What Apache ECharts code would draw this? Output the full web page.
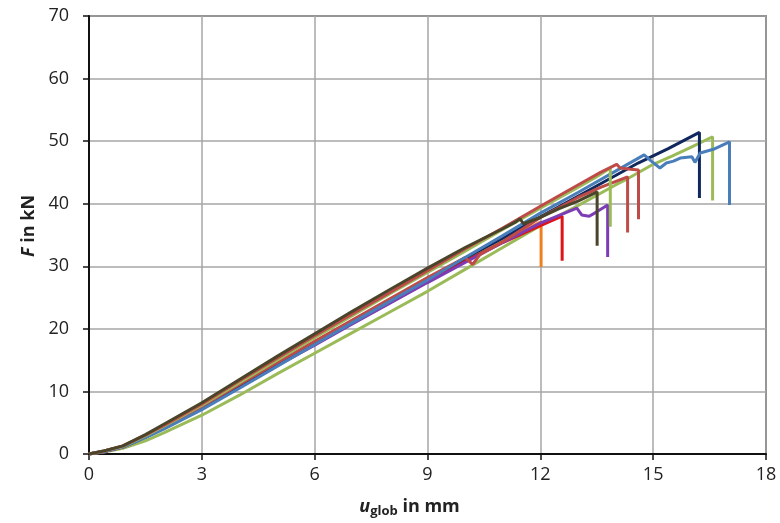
<!DOCTYPE html>
<html>
<head>
<meta charset="utf-8">
<script src="https://cdn.jsdelivr.net/npm/echarts@6/dist/echarts.min.js"></script>
<style>
  html, body { margin: 0; padding: 0; background: #fff; }
  #chart { width: 780px; height: 523px; }
</style>
</head>
<body>
<div id="chart"></div>
<script>
// Load–displacement curves, F in kN over u_glob in mm, one array per specimen
const xTicks = [0, 3, 6, 9, 12, 15, 18];
const yTicks = [0, 10, 20, 30, 40, 50, 60, 70];

const curveGreenB = [[0,0],[0.4,0.3],[0.9,0.9],[1.5,2.1],[2,3.4],[3,6.2],[4,9.4],[5,12.8],[6,16.1],[7,19.4],[8,22.7],[9,26.0],[10,29.5],[11,33.0],[12,36.5],[13,39.7],[14,43.0],[14.26,43.8],[15.0,46.3],[15.5,47.6],[16,49.0],[16.58,50.7],[16.58,40.5]];
const curveOrange = [[0,0],[0.4,0.4],[0.9,1.1],[1.5,2.7],[2,4.2],[3,7.4],[4,10.8],[5,14.2],[6,17.6],[7,20.9],[8,24.2],[9,27.5],[10,30.8],[11,34.0],[12.02,37.1],[12.02,29.9]];
const curveRed = [[0,0],[0.4,0.4],[0.9,1.1],[1.5,2.7],[2,4.3],[3,7.4],[4,10.8],[5,14.2],[6,17.6],[7,20.9],[8,24.3],[9,27.6],[10,30.8],[11,33.8],[12,36.5],[12.58,38.0],[12.58,30.9]];
const curvePurple = [[0,0],[0.4,0.4],[0.9,1.1],[1.5,2.7],[2,4.2],[3,7.3],[4,10.7],[5,14.1],[6,17.4],[7,20.8],[8,24.1],[9,27.4],[10,30.6],[11,33.8],[12,36.9],[12.97,39.3],[13.1,38.2],[13.3,38.0],[13.5,38.7],[13.79,39.8],[13.79,31.5]];
const curveNavy = [[0,0],[0.4,0.5],[0.9,1.2],[1.5,2.8],[2,4.3],[3,7.4],[4,10.9],[5,14.4],[6,17.9],[7,21.3],[8,24.7],[9,28.0],[10,31.3],[11,34.5],[12,37.9],[13,41.2],[14,44.5],[14.6,46.5],[15.4,48.8],[16.23,51.4],[16.23,40.9]];
const curveRustB = [[0,0],[0.4,0.4],[0.9,1.2],[1.5,2.8],[2,4.3],[3,7.6],[4,11.1],[5,14.6],[6,18.0],[7,21.4],[8,24.8],[9,28.2],[10,31.4],[10.2,30.3],[10.4,31.9],[11,33.9],[12,37.8],[13,41.0],[13.6,42.6],[14.32,44.3],[14.32,35.4]];
const curveBlue = [[0,0],[0.4,0.4],[0.9,1.1],[1.5,2.6],[2,4.0],[3,7.1],[4,10.5],[5,14.0],[6,17.5],[7,21.0],[8,24.4],[9,27.8],[10,31.4],[11,34.9],[12,38.5],[13,41.8],[14,45.2],[14.76,47.8],[14.95,46.8],[15.18,45.7],[15.35,46.5],[15.54,46.8],[15.72,47.3],[16.03,47.5],[16.11,46.6],[16.25,48.1],[16.6,48.7],[17.03,49.9],[17.03,39.8]];
const curveGreenA = [[0,0],[0.4,0.5],[0.9,1.2],[1.5,2.9],[2,4.5],[3,7.8],[4,11.4],[5,15.0],[6,18.6],[7,22.1],[8,25.6],[9,29.0],[10,32.4],[11,35.9],[12,39.3],[13,42.6],[13.5,44.3],[13.86,45.7],[13.86,36.3]];
const curveRustA = [[0,0],[0.4,0.5],[0.9,1.3],[1.5,3.0],[2,4.6],[3,8.0],[4,11.7],[5,15.3],[6,18.9],[7,22.4],[8,25.8],[9,29.3],[10,32.8],[11,36.1],[12,39.6],[13,43.0],[13.6,45.0],[14.03,46.3],[14.12,45.7],[14.4,45.5],[14.61,45.4],[14.61,37.5]];
const curveOlive = [[0,0],[0.4,0.5],[0.9,1.3],[1.5,3.1],[2,4.8],[3,8.2],[4,11.9],[5,15.6],[6,19.2],[7,22.8],[8,26.3],[9,29.7],[10,33.0],[11,36.0],[11.35,37.1],[11.46,37.6],[11.55,36.8],[12,37.8],[12.5,39.2],[13,40.4],[13.51,41.9],[13.51,33.3]];

const curves = [
  { data: curveGreenB, color: '#9BBB59' },
  { data: curveOrange, color: '#F0801E' },
  { data: curveRed,    color: '#DD1418' },
  { data: curvePurple, color: '#7D3CB5' },
  { data: curveNavy,   color: '#10285E' },
  { data: curveRustB,  color: '#BE4B48' },
  { data: curveBlue,   color: '#4A7EBB' },
  { data: curveGreenA, color: '#9BBB59' },
  { data: curveRustA,  color: '#BE4B48' },
  { data: curveOlive,  color: '#4A452A' }
];

const font = 'Open Sans';
const chart = echarts.init(document.getElementById('chart'), null, { renderer: 'canvas' });

chart.setOption({
  animation: false,
  backgroundColor: '#ffffff',
  grid: {
    left: 89, right: 14, top: 16, bottom: 69,
    show: true, borderColor: '#3a3a3a', borderWidth: 1.5, backgroundColor: 'transparent'
  },
  xAxis: {
    type: 'value',
    min: xTicks[0], max: xTicks[xTicks.length - 1], interval: xTicks[1] - xTicks[0],
    name: '{u|u}{sub|glob}{t| in mm}',
    nameLocation: 'middle', nameGap: 42,
    nameTextStyle: {
      padding: [0, 36, 0, 0],
      rich: {
        u:   { fontFamily: font, fontSize: 18, fontWeight: 'bold', fontStyle: 'italic', color: '#222' },
        sub: { fontFamily: font, fontSize: 13, fontWeight: 'bold', color: '#222', padding: [9, 0, 0, 0] },
        t:   { fontFamily: font, fontSize: 18, fontWeight: 'bold', color: '#222' }
      }
    },
    axisLine: { show: true, onZero: false, lineStyle: { color: '#111', width: 2 } },
    axisTick: { show: true, inside: false, length: 6, lineStyle: { color: '#111', width: 1.5 } },
    axisLabel: { fontFamily: font, fontSize: 18, color: '#222', margin: 12 },
    splitLine: { show: true, lineStyle: { color: '#A6A6A6', width: 1.5 } }
  },
  yAxis: {
    type: 'value',
    min: yTicks[0], max: yTicks[yTicks.length - 1], interval: yTicks[1] - yTicks[0],
    name: '{f|F}{t| in kN}',
    nameLocation: 'middle', nameGap: 48, nameRotate: 90,
    nameTextStyle: {
      padding: [0, 0, 0, 18],
      rich: {
        f: { fontFamily: font, fontSize: 18, fontWeight: 'bold', fontStyle: 'italic', color: '#222' },
        t: { fontFamily: font, fontSize: 18, fontWeight: 'bold', color: '#222' }
      }
    },
    axisLine: { show: true, onZero: false, lineStyle: { color: '#111', width: 2 } },
    axisTick: { show: true, inside: false, length: 6, lineStyle: { color: '#111', width: 1.5 } },
    axisLabel: { fontFamily: font, fontSize: 18, color: '#222', margin: 20 },
    splitLine: { show: true, lineStyle: { color: '#A6A6A6', width: 1.5 } }
  },
  series: curves.map(c => ({
    type: 'line',
    data: c.data,
    showSymbol: false,
    symbol: 'none',
    smooth: false,
    lineStyle: { color: c.color, width: 3 },
    emphasis: { disabled: true }
  }))
});
</script>
</body>
</html>
